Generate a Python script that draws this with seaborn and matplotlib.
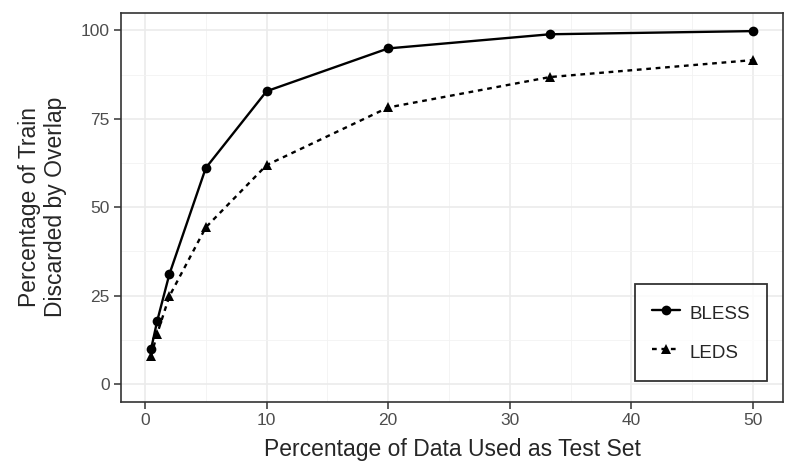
import matplotlib
matplotlib.use("Agg")
import matplotlib.pyplot as plt
import pandas as pd
import seaborn as sns

test_pct = [0.5, 1, 2, 5, 10, 20, 33.3, 50]
bless = [9.9, 17.8, 31.0, 61.1, 82.8, 94.9, 98.9, 99.8]
leds = [7.9, 14.2, 24.8, 44.3, 61.9, 78.2, 86.8, 91.6]

df = pd.DataFrame({
    "x": test_pct * 2,
    "y": bless + leds,
    "dataset": ["BLESS"] * len(test_pct) + ["LEDS"] * len(test_pct),
})

sns.set_style("whitegrid")
plt.rcParams["font.family"] = ["Liberation Sans", "DejaVu Sans"]

W, H = 785, 476
fig = plt.figure(figsize=(W / 100, H / 100), dpi=100)
# panel box in pixels: left 121, right 783, top 12.7, bottom 401.7
ax = fig.add_axes([121 / W, 1 - 401.7 / H, 662 / W, 389 / H])

sns.lineplot(data=df, x="x", y="y", style="dataset", markers={"BLESS": "o", "LEDS": "^"},
             dashes={"BLESS": "", "LEDS": (2, 2)}, color="black", lw=1.7,
             markersize=7, markeredgewidth=0, ax=ax)

ax.set_xlim(-1.975, 52.475)
ax.set_ylim(-5, 105)
ax.set_xticks([0, 10, 20, 30, 40, 50])
ax.set_yticks([0, 25, 50, 75, 100])
ax.set_xticks([5, 15, 25, 35, 45], minor=True)
ax.set_yticks([12.5, 37.5, 62.5, 87.5], minor=True)
ax.grid(which="major", color="#EBEBEB", lw=1.2)
ax.grid(which="minor", color="#F2F2F2", lw=0.6)
for s in ax.spines.values():
    s.set_color("#333333")
    s.set_linewidth(1.2)
ax.tick_params(which="major", length=5, pad=3, color="#333333", labelcolor="#4D4D4D",
               labelsize=12.5, left=True, bottom=True, width=1.1)
ax.tick_params(which="minor", length=0)
ax.set_xlabel("Percentage of Data Used as Test Set", fontsize=16.5, labelpad=7)
ax.set_ylabel("Percentage of Train\nDiscarded by Overlap", fontsize=16.5, labelpad=10,
              linespacing=1.15)

leg = ax.legend(title=None, loc="lower right", bbox_to_anchor=(0.9758, 0.053),
                borderaxespad=0, fontsize=13.5, frameon=True, fancybox=False,
                edgecolor="black", borderpad=0.9, labelspacing=0.8, handleheight=1.6,
                handlelength=1.5, handletextpad=0.5)
leg.get_frame().set_linewidth(1.3)

fig.savefig("out.png", dpi=100)
